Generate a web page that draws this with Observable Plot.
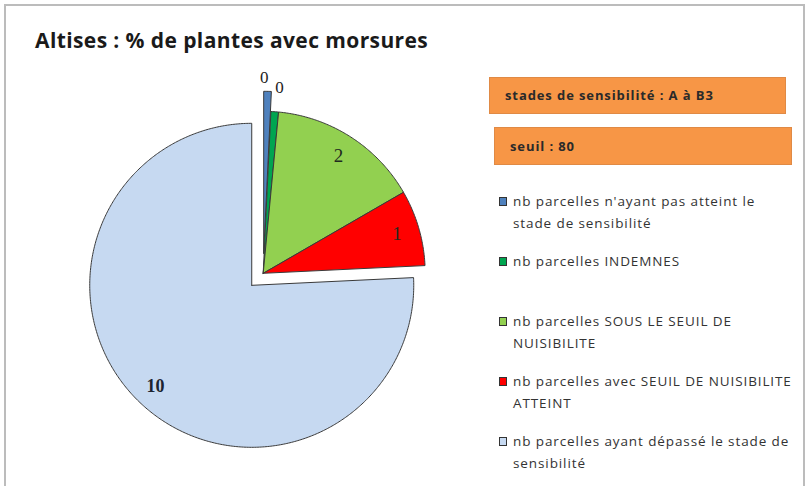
<!DOCTYPE html>
<html>
<head>
<meta charset="utf-8">
<script src="https://cdn.jsdelivr.net/npm/d3@7"></script>
<script src="https://cdn.jsdelivr.net/npm/@observablehq/plot@0.6"></script>
<style>
  html, body { margin: 0; padding: 0; background: #fff; }
  #wrap { position: relative; width: 810px; height: 486px; overflow: hidden; font-family: "Open Sans", Lato, sans-serif; }
  #frame { position: absolute; left: 4px; top: 4px; width: 801px; height: 500px; border: 2px solid #bcbcbc; box-sizing: border-box; }
  #chart { position: absolute; left: 0; top: 0; }
  #title { position: absolute; left: 35px; top: 26px; font-size: 21px; font-weight: 700; color: #1a1a1a; white-space: nowrap; letter-spacing: 0.4px; }
  .obox { position: absolute; background: #F79646; color: #2a2a2a; font-weight: 700; font-size: 13px; letter-spacing: 0.9px; box-sizing: border-box; border: 1px solid #e08a45; }
  #legend { position: absolute; left: 499px; top: 190px; }
  .item { position: relative; height: 60px; }
  .sw { position: absolute; left: 0; top: 7px; width: 8px; height: 9px; border: 1px solid #333; box-sizing: border-box; }
  .lab { position: absolute; left: 14px; top: 0; font-size: 13.5px; letter-spacing: 0.9px; line-height: 22px; color: #333; white-space: pre; }
</style>
</head>
<body>
<div id="wrap">
  <div id="frame"></div>
  <div id="chart"></div>
  <div id="title"></div>
  <div id="boxes"></div>
  <div id="legend"></div>
</div>
<script>
// ---- data ----
const titleText = "Altises : % de plantes avec morsures";
const categories = [
  "nb parcelles n'ayant pas atteint le stade de sensibilité",
  "nb parcelles INDEMNES",
  "nb parcelles SOUS LE SEUIL DE NUISIBILITE",
  "nb parcelles avec SEUIL DE NUISIBILITE ATTEINT",
  "nb parcelles ayant dépassé le stade de sensibilité"
];
const legendLabels = [
  "nb parcelles n'ayant pas atteint le\nstade de sensibilité",
  "nb parcelles INDEMNES",
  "nb parcelles SOUS LE SEUIL DE\nNUISIBILITE",
  "nb parcelles avec SEUIL DE NUISIBILITE\nATTEINT",
  "nb parcelles ayant dépassé le stade de\nsensibilité"
];
const values = [0.1, 0.1, 2, 1, 10];
const valueLabels = ["0", "0", "2", "1", "10"];
const colors = ["#4F81BD", "#00A550", "#92D050", "#FF0000", "#C6D9F1"];
const explode = [20, 0, 0, 0, 16.6];
const infoBoxes = ["stades de sensibilité : A à B3", "seuil : 80"];

// ---- layout ----
const W = 810, H = 486;
const cx = 262.7, cy = 272.8, R = 162;

document.getElementById("title").textContent = titleText;

const pie = d3.pie().sort(null).value(d => d.value).startAngle(0).endAngle(2 * Math.PI);
const slices = pie(categories.map((c, i) => ({name: c, value: values[i], i})));

const polys = [];
const labels = [];
slices.forEach((s, i) => {
  const mid = (s.startAngle + s.endAngle) / 2;
  const ox = cx + explode[i] * Math.sin(mid);
  const oy = cy - explode[i] * Math.cos(mid);
  const pts = [{x: ox, y: oy}];
  const n = Math.max(2, Math.ceil((s.endAngle - s.startAngle) / 0.01));
  for (let k = 0; k <= n; k++) {
    const a = s.startAngle + (s.endAngle - s.startAngle) * k / n;
    pts.push({x: ox + R * Math.sin(a), y: oy - R * Math.cos(a)});
  }
  pts.push({x: ox, y: oy});
  polys.push(pts);
  const small = s.data.value < 0.5;
  const lr = small ? R + 14 + (i === 1 ? 10 : 0) : R * 0.86;
  const la = small ? (i === 1 ? mid + 0.017 : mid - 0.02) : mid;
  labels.push({x: ox + lr * Math.sin(la), y: oy - lr * Math.cos(la), text: valueLabels[i], i, small});
});

const marks = polys.map((p, i) => Plot.line(p, {x: "x", y: "y", fill: colors[i], stroke: "#3a3a3a", strokeWidth: 1, curve: "linear"}));
marks.push(Plot.text(labels.filter(d => d.small), {x: "x", y: "y", text: "text", fontSize: 17, fill: "#222", fontFamily: "Liberation Serif, serif"}));
marks.push(Plot.text(labels.filter(d => !d.small && d.text !== "10"), {x: "x", y: "y", text: "text", fontSize: 19, fill: "#1f2a1f", fontFamily: "Liberation Serif, serif"}));
marks.push(Plot.text(labels.filter(d => d.text === "10"), {x: "x", y: "y", text: "text", fontSize: 18, fontWeight: "bold", fill: "#1c2430", fontFamily: "Liberation Serif, serif"}));

const plot = Plot.plot({
  width: W, height: H,
  margin: 0,
  x: {domain: [0, W], range: [0, W], axis: null},
  y: {domain: [0, H], range: [0, H], axis: null},
  style: {background: "transparent"},
  marks
});
document.getElementById("chart").appendChild(plot);

// info boxes
const boxGeom = [{l: 489, t: 77, w: 297, h: 37, p: 15}, {l: 494, t: 127, w: 298, h: 38, p: 15}];
const boxes = document.getElementById("boxes");
infoBoxes.forEach((t, i) => {
  const b = document.createElement("div");
  b.className = "obox";
  const g = boxGeom[i];
  Object.assign(b.style, {left: g.l + "px", top: g.t + "px", width: g.w + "px", height: g.h + "px", lineHeight: (g.h - 2) + "px", paddingLeft: g.p + "px"});
  b.textContent = t;
  boxes.appendChild(b);
});

// legend
const legend = document.getElementById("legend");
legendLabels.forEach((t, i) => {
  const it = document.createElement("div");
  it.className = "item";
  const sw = document.createElement("div");
  sw.className = "sw";
  sw.style.background = colors[i];
  const lab = document.createElement("div");
  lab.className = "lab";
  lab.textContent = t;
  it.appendChild(sw); it.appendChild(lab);
  legend.appendChild(it);
});
</script>
</body>
</html>
